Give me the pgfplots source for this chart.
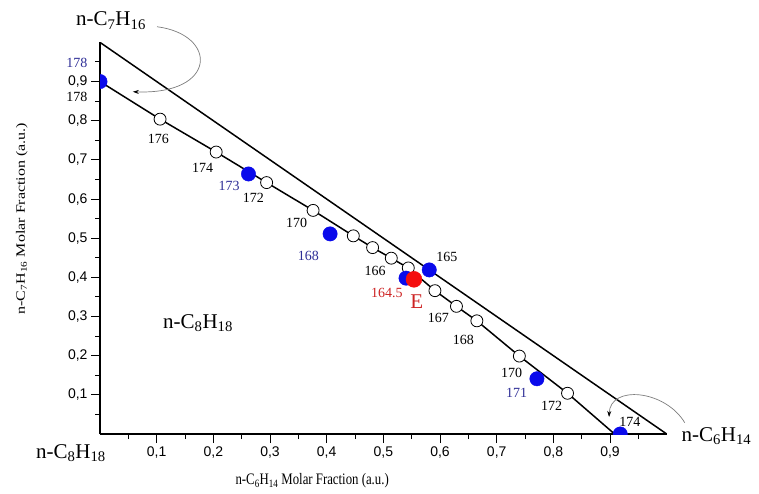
\documentclass[border=0pt]{standalone}
\usepackage{graphicx}
\usepackage{pgfplots}
\pgfplotsset{compat=1.18}
\usetikzlibrary{arrows.meta}
\usepackage{fontspec}
\setmainfont{Liberation Serif}
\setsansfont{Liberation Sans}
\definecolor{ptblue}{RGB}{10,10,235}
\definecolor{lblblue}{RGB}{45,45,150}
\definecolor{ptred}{RGB}{245,15,15}
\definecolor{lblred}{RGB}{205,35,35}
\definecolor{arrgray}{RGB}{125,125,125}
\newcommand{\lbl}{\fontsize{14}{16}\selectfont}
\newcommand{\bigfont}{\fontsize{21}{24}\selectfont}
\newcommand{\axfont}{\fontsize{16}{18}\selectfont}
\begin{document}
\begin{tikzpicture}
\useasboundingbox (0,0) rectangle (759pt,493pt);
\begin{axis}[
  at={(100pt,59pt)}, anchor=south west,
  scale only axis, width=566.7pt, height=391.6pt,
  xmin=0, xmax=1, ymin=0, ymax=1,
  axis x line=bottom, axis y line=left,
  axis line style={-, line width=1.4pt},
  xtick={0.1,0.2,0.3,0.4,0.5,0.6,0.7,0.8,0.9},
  ytick={0.1,0.2,0.3,0.4,0.5,0.6,0.7,0.8,0.9},
  minor xtick={0.05,0.15,0.25,0.35,0.45,0.55,0.65,0.75,0.85,0.95},
  minor ytick={0.05,0.15,0.25,0.35,0.45,0.55,0.65,0.75,0.85,0.95},
  tick align=outside,
  major tick length=9pt, minor tick length=5pt,
  every tick/.style={black, line width=1pt},
  /pgf/number format/use comma,
  /pgf/number format/fixed,
  /pgf/number format/fixed zerofill,
  /pgf/number format/precision=1,
  /pgf/number format/assume math mode=true,
  ticklabel style={font=\sffamily\fontsize{14}{16}\selectfont},
  clip mode=individual, clip marker paths=true,
  xlabel={\scalebox{0.8}[1]{n-C\textsubscript{6}H\textsubscript{14} Molar Fraction (a.u.)}},
  xlabel style={at={(axis description cs:0.233,-0.12)}, anchor=west, font=\axfont},
  ylabel={\scalebox{1}[0.8]{n-C\textsubscript{7}H\textsubscript{16} Molar Fraction (a.u.)}},
  ylabel style={at={(axis description cs:-0.138,0.55)}, anchor=center, font=\axfont},
]
% outer line (hypotenuse)
\addplot[black, line width=1.5pt] coordinates {(0,1) (1,0)};
% inner path through measured points
\addplot[black, line width=1.5pt] coordinates {
 (0,0.9) (0.106,0.804) (0.205,0.720) (0.294,0.642) (0.376,0.571)
 (0.447,0.506) (0.481,0.476) (0.514,0.449) (0.544,0.424) (0.591,0.366)
 (0.629,0.326) (0.665,0.289) (0.740,0.199) (0.825,0.104) (0.908,0)};
% open circles
\addplot[only marks, mark=*, mark size=6pt, mark options={fill=white, draw=black, line width=0.8pt}] coordinates {
 (0.106,0.804) (0.205,0.720) (0.294,0.642) (0.376,0.571)
 (0.447,0.506) (0.481,0.476) (0.514,0.449) (0.544,0.424) (0.591,0.366)
 (0.629,0.326) (0.665,0.289) (0.740,0.199) (0.825,0.104)};
% blue points
\addplot[only marks, mark=*, mark size=7.2pt, color=ptblue] coordinates {
 (0,0.9) (0.262,0.664) (0.406,0.511) (0.540,0.398) (0.581,0.419) (0.771,0.141) (0.918,0)};
% red point E
\addplot[only marks, mark=*, mark size=8pt, color=ptred] coordinates {(0.554,0.395)};

% point labels
\node[font=\lbl, lblblue] at (axis cs:-0.0406,0.948) {178};
\node[font=\lbl] at (axis cs:-0.0406,0.861) {178};
\node[font=\lbl] at (axis cs:0.103,0.753) {176};
\node[font=\lbl] at (axis cs:0.181,0.679) {174};
\node[font=\lbl, lblblue] at (axis cs:0.228,0.634) {173};
\node[font=\lbl] at (axis cs:0.2705,0.604) {172};
\node[font=\lbl] at (axis cs:0.347,0.540) {170};
\node[font=\lbl, lblblue] at (axis cs:0.3676,0.455) {168};
\node[font=\lbl] at (axis cs:0.4853,0.4175) {166};
\node[font=\lbl, lblred] at (axis cs:0.506,0.360) {164.5};
\node[font=\bigfont, lblred] at (axis cs:0.559,0.338) {E};
\node[font=\lbl] at (axis cs:0.612,0.453) {165};
\node[font=\lbl] at (axis cs:0.597,0.296) {167};
\node[font=\lbl] at (axis cs:0.641,0.2406) {168};
\node[font=\lbl] at (axis cs:0.7265,0.157) {170};
\node[font=\lbl, lblblue] at (axis cs:0.735,0.104) {171};
\node[font=\lbl] at (axis cs:0.797,0.072) {172};
\node[font=\lbl] at (axis cs:0.935,0.032) {174};

% component labels
\node[font=\bigfont, anchor=base] at (axis cs:0.0194,1.0421) {n-C\textsubscript{7}H\textsubscript{16}};
\node[font=\bigfont, anchor=base] at (axis cs:-0.0512,-0.0633) {n-C\textsubscript{8}H\textsubscript{18}};
\node[font=\bigfont, anchor=base west] at (axis cs:1.020,-0.019) {n-C\textsubscript{6}H\textsubscript{14}};
\node[font=\bigfont, anchor=base] at (axis cs:0.173,0.2686) {n-C\textsubscript{8}H\textsubscript{18}};

% curved arrows
\draw[arrgray, line width=0.7pt, -{Stealth[length=6pt,width=4pt,black]}]
  (axis cs:0.1006,1.040) .. controls (axis cs:0.208,1.020) and (axis cs:0.208,0.866) .. (axis cs:0.058,0.874);
\draw[arrgray, line width=0.7pt, -{Stealth[length=6pt,width=4pt,black]}]
  (axis cs:1.0318,0.029) .. controls (axis cs:0.997,0.113) and (axis cs:0.900,0.126) .. (axis cs:0.8983,0.0434);
\end{axis}
\end{tikzpicture}
\end{document}
